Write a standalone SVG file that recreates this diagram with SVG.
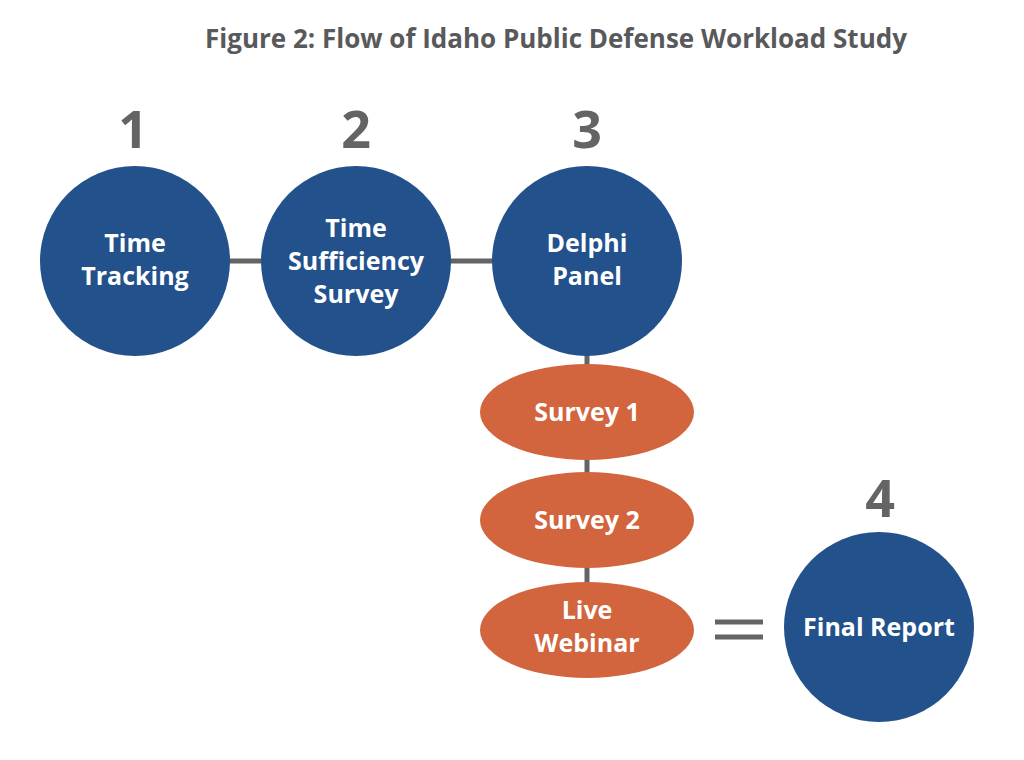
<svg xmlns="http://www.w3.org/2000/svg" width="1024" height="760" viewBox="0 0 1024 760">
<style>
.c{fill:#22518c}.e{fill:#d2653d}
.t{font-family:"Open Sans","Liberation Sans",sans-serif;font-weight:bold;fill:#fff;font-size:25px;text-anchor:middle}
.n{font-family:"Open Sans","Liberation Sans",sans-serif;font-weight:bold;fill:#636466;font-size:52px;text-anchor:middle}
.l{stroke:#636466;stroke-width:5;fill:none}
</style>
<rect width="1024" height="760" fill="#fff"/>
<text x="556" y="48" font-family="Open Sans,Liberation Sans,sans-serif" font-weight="bold" font-size="26" fill="#58595b" text-anchor="middle">Figure 2: Flow of Idaho Public Defense Workload Study</text>
<g id="connectors">
<path class="l" d="M228 261H264M449 261H494M587 354V590"/>
<path class="l" d="M715 622H763M715 637H763"/>
</g>
<g id="n1"><text class="n" x="133" y="148">1</text><circle class="c" cx="135" cy="261" r="95"/><text class="t" x="135" y="252">Time</text><text class="t" x="135" y="285">Tracking</text></g>
<g id="n2"><text class="n" x="356" y="148">2</text><circle class="c" cx="356" cy="261" r="95"/><text class="t" x="356" y="237">Time</text><text class="t" x="356" y="270">Sufficiency</text><text class="t" x="356" y="303">Survey</text></g>
<g id="n3"><text class="n" x="587" y="148">3</text><circle class="c" cx="587" cy="261" r="95"/><text class="t" x="587" y="252">Delphi</text><text class="t" x="587" y="285">Panel</text></g>
<g id="s1"><ellipse class="e" cx="587" cy="412" rx="107" ry="48"/><text class="t" x="587" y="421">Survey 1</text></g>
<g id="s2"><ellipse class="e" cx="587" cy="520" rx="107" ry="48"/><text class="t" x="587" y="529">Survey 2</text></g>
<g id="s3"><ellipse class="e" cx="587" cy="630" rx="107" ry="48"/><text class="t" x="587" y="619">Live</text><text class="t" x="587" y="652">Webinar</text></g>
<g id="n4"><text class="n" x="880" y="517">4</text><circle class="c" cx="879" cy="627" r="95"/><text class="t" x="879" y="636">Final Report</text></g>
</svg>
